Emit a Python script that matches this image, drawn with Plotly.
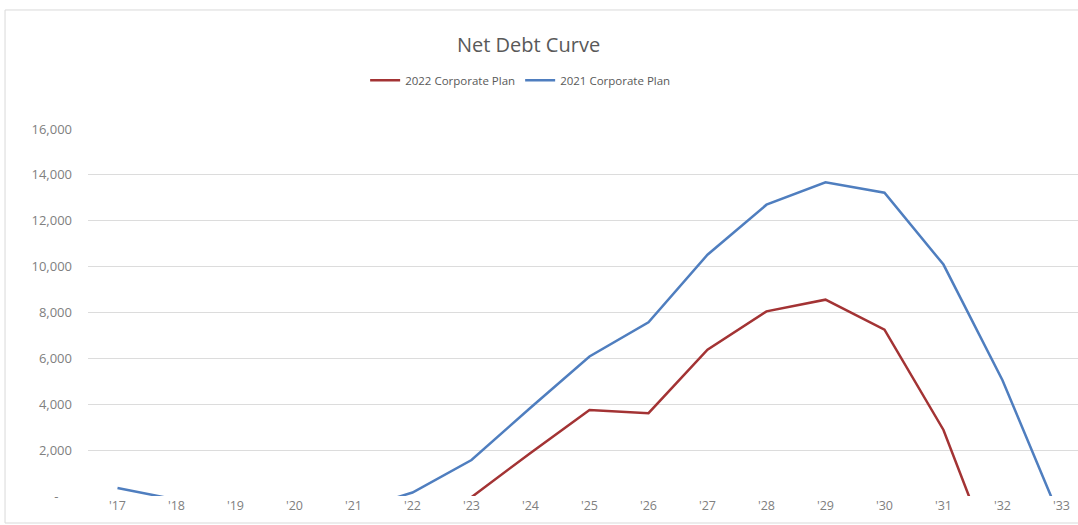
import plotly.graph_objects as go

# Fiscal years shown on the category axis
years = ["'17", "'18", "'19", "'20", "'21", "'22", "'23", "'24", "'25",
         "'26", "'27", "'28", "'29", "'30", "'31", "'32", "'33"]

# Net debt by plan (negative values fall below the axis floor and are clipped)
plan_2022 = [None, None, None, None, None, None, -50, 1880, 3750,
             3610, 6380, 8050, 8560, 7250, 2880, -3800, None]
plan_2021 = [350, -160, -500, -700, -640, 150, 1570, 3850, 6080,
             7570, 10520, 12700, 13680, 13220, 10090, 5050, -1100]

y_ticks = [0, 2000, 4000, 6000, 8000, 10000, 12000, 14000, 16000]
# accounting-style zero: a dash padded away from the axis
y_tick_text = ["-\u00a0\u00a0\u00a0\u00a0", "2,000", "4,000", "6,000", "8,000",
               "10,000", "12,000", "14,000", "16,000"]

RED = "#A33334"
BLUE = "#4F7EBF"
GRID = "#DCDCDC"
TEXT = "#808080"

fig = go.Figure()
fig.add_trace(go.Scatter(x=years, y=plan_2022, mode="lines",
                         name="2022 Corporate Plan",
                         line=dict(color=RED, width=2.5)))
fig.add_trace(go.Scatter(x=years, y=plan_2021, mode="lines",
                         name="2021 Corporate Plan",
                         line=dict(color=BLUE, width=2.5)))

fig.update_layout(
    width=1078, height=525,
    margin=dict(l=88, r=0, t=129, b=29),
    paper_bgcolor="white", plot_bgcolor="white",
    font=dict(family="Open Sans", color=TEXT, size=12),
    title=dict(text="Net Debt Curve", x=0.445, xref="paper", y=0.915,
               yref="container", xanchor="center", yanchor="middle",
               font=dict(size=20, color="#595959", family="Open Sans")),
    legend=dict(orientation="h", x=0.437, xanchor="center",
                y=1.133, yanchor="middle",
                font=dict(size=11.5, color="#595959"),
                itemwidth=30, bgcolor="rgba(0,0,0,0)"),
    showlegend=True,
    xaxis=dict(type="category", range=[-0.5, 16.28],
               showgrid=False, zeroline=False, showline=False,
               ticks="", tickfont=dict(size=12.5, color=TEXT)),
    yaxis=dict(range=[0, 16000], tickvals=y_ticks, ticktext=y_tick_text,
               showgrid=True, gridcolor=GRID, gridwidth=1,
               zeroline=False, showline=False, ticks="",
               ticklabelstandoff=15,
               tickfont=dict(size=13, color=TEXT)),
    shapes=[dict(type="rect", xref="paper", yref="paper",
                 x0=-0.0838, x1=1.01, y0=-0.0736, y1=1.3243,
                 line=dict(color="#D9D9D9", width=1),
                 fillcolor="rgba(0,0,0,0)", layer="below")],
)

fig.write_html("out.html")
